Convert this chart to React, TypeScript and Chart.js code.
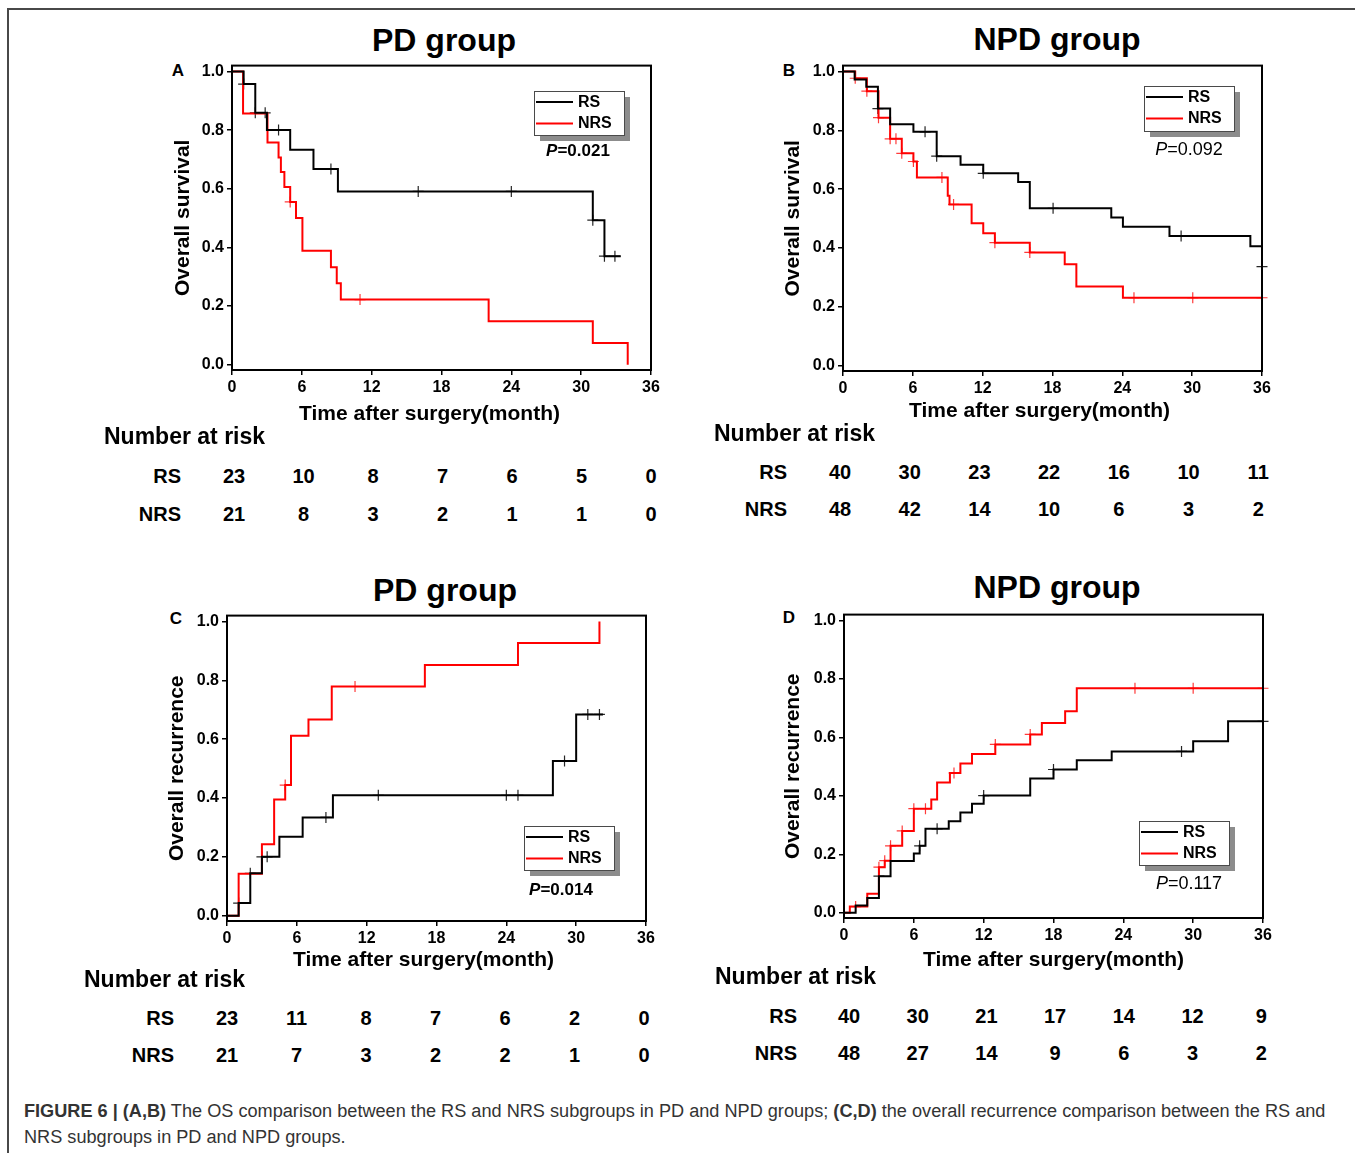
import React, { useEffect, useRef } from "react";
import { Chart, registerables } from "chart.js";

Chart.register(...registerables);

const FONT = '"Liberation Sans", Arial, Helvetica, sans-serif';

// ---------- shared axes / labels ----------
const monthTicks = [0, 6, 12, 18, 24, 30, 36];
const probTicks = [0, 0.2, 0.4, 0.6, 0.8, 1.0];
const seriesNames = ["RS", "NRS"];
const xAxisTitle = "Time after surgery(month)";
const riskHeader = "Number at risk";

// ---------- Panel A : PD group, overall survival ----------
const aRsTime = [0, 1, 2, 3, 5, 7, 9.1, 31, 32, 33.4];
const aRsValue = [1, 0.957, 0.859, 0.8, 0.733, 0.667, 0.591, 0.493, 0.37, 0.37];
const aRsCensor = [1, 2, 2.85, 4, 8.5, 16, 24, 31, 32, 32.9];
const aNrsTime = [0, 0.95, 3.05, 4.0, 4.2, 4.5, 5.0, 5.5, 6.05, 8.5, 9.0, 9.35, 22.05, 31, 34];
const aNrsValue = [1, 0.857, 0.758, 0.707, 0.657, 0.606, 0.555, 0.5, 0.389, 0.332, 0.278, 0.222, 0.148, 0.074, 0];
const aNrsCensor = [5.0, 11];
const aRiskRS = [23, 10, 8, 7, 6, 5, 0];
const aRiskNRS = [21, 8, 3, 2, 1, 1, 0];

// ---------- Panel B : NPD group, overall survival ----------
const bRsTime = [0, 1, 2, 3, 4.05, 6.05, 8.05, 10.1, 12.05, 15.05, 16.05, 23.05, 24.05, 28.05, 35, 36];
const bRsValue = [1, 0.973, 0.948, 0.874, 0.821, 0.795, 0.712, 0.683, 0.654, 0.624, 0.535, 0.504, 0.472, 0.441, 0.406, 0.337];
const bRsCensor = [3, 7.05, 8.05, 12.05, 18.05, 29.05, 36];
const bNrsTime = [0, 1.05, 2.05, 3.05, 4.05, 5.05, 6.05, 6.35, 9.0, 9.15, 11.05, 12.05, 13.05, 16.05, 19.05, 20.05, 24.05, 36];
const bNrsValue = [1, 0.977, 0.933, 0.843, 0.771, 0.722, 0.694, 0.64, 0.578, 0.548, 0.484, 0.45, 0.418, 0.385, 0.345, 0.269, 0.231, 0.231];
const bNrsCensor = [1.05, 2.05, 3.05, 4.05, 4.55, 5.05, 6.05, 8.5, 9.5, 13.05, 16.05, 25, 30.05, 36];
const bRiskRS = [40, 30, 23, 22, 16, 10, 11];
const bRiskNRS = [48, 42, 14, 10, 6, 3, 2];

// ---------- Panel C : PD group, overall recurrence ----------
const cRsTime = [0, 1, 2, 3, 4.5, 6.5, 9.1, 28, 30, 32.3];
const cRsValue = [0, 0.043, 0.144, 0.2, 0.268, 0.334, 0.409, 0.526, 0.684, 0.684];
const cRsCensor = [1, 2, 3, 3.45, 8.5, 13, 24, 25, 29, 31, 32];
const cNrsTime = [0, 1, 3, 4.05, 5, 5.5, 7, 9, 17, 25, 32];
const cNrsValue = [0, 0.143, 0.243, 0.395, 0.444, 0.612, 0.667, 0.779, 0.852, 0.927, 1.0];
const cNrsCensor = [5, 11];
const cRiskRS = [23, 11, 8, 7, 6, 2, 0];
const cRiskNRS = [21, 7, 3, 2, 2, 1, 0];

// ---------- Panel D : NPD group, overall recurrence ----------
const dRsTime = [0, 1, 2, 3, 4, 6, 6.5, 7, 9, 10, 11, 12, 16, 18, 20, 23, 30, 33, 36];
const dRsValue = [0, 0.025, 0.05, 0.125, 0.177, 0.203, 0.229, 0.287, 0.313, 0.343, 0.373, 0.401, 0.459, 0.49, 0.522, 0.552, 0.587, 0.655, 0.655];
const dRsCensor = [3, 6.5, 8, 12, 18, 29, 36];
const dNrsTime = [0, 0.5, 2, 3, 3.5, 4, 5, 6, 7.5, 8, 9.1, 10, 11, 13, 16, 17, 19, 20, 36];
const dNrsValue = [0, 0.021, 0.065, 0.156, 0.178, 0.229, 0.28, 0.356, 0.387, 0.446, 0.478, 0.511, 0.543, 0.576, 0.61, 0.649, 0.689, 0.768, 0.768];
const dNrsCensor = [1, 3, 3.5, 4, 5, 6, 7, 9.45, 13, 16, 25, 30, 36];
const dRiskRS = [40, 30, 21, 17, 14, 12, 9];
const dRiskNRS = [48, 27, 14, 9, 6, 3, 2];

const pValues = ["0.021", "0.092", "0.014", "0.117"];

// ---------- helpers ----------
type Curve = { time: number[]; value: number[]; censor: number[] };

function stepValueAt(time: number[], value: number[], t: number) {
  let v = value[0];
  for (let i = 0; i < time.length; i++) if (time[i] <= t + 1e-9) v = value[i];
  return v;
}

const Y_AXIS_W = 82;
const X_AXIS_H = 65;
const PAD_TOP = 10;
const PAD_RIGHT = 29;

const kmDecor = {
  id: "kmDecor",
  afterDraw(chart: any, _args: any, opts: any) {
    const { ctx, chartArea: ca } = chart;
    ctx.save();
    ctx.strokeStyle = "#000";
    ctx.lineWidth = 2;
    ctx.strokeRect(ca.left, ca.top, ca.right - ca.left, ca.bottom - ca.top);

    // x axis title (slightly off-centre in the original)
    ctx.fillStyle = "#000";
    ctx.font = `bold 21px ${FONT}`;
    ctx.textAlign = "center";
    ctx.textBaseline = "middle";
    ctx.fillText(opts.xTitle, (ca.left + ca.right) / 2 + opts.xTitleDx, opts.xTitleY);

    // boxed legend with shadow
    const bx = Math.round(ca.left + opts.box.x);
    const by = Math.round(ca.top + opts.box.y);
    const bw = opts.box.w;
    const bh = opts.box.h;
    ctx.fillStyle = "#8c8c8c";
    ctx.fillRect(bx + 6, by + 6, bw, bh);
    ctx.fillStyle = "#fff";
    ctx.fillRect(bx, by, bw, bh);
    ctx.strokeStyle = "#4a4a4a";
    ctx.lineWidth = 1;
    ctx.strokeRect(bx + 0.5, by + 0.5, bw, bh);
    const lines = chart.data.datasets.filter((d: any) => !d.kmCensor);
    lines.forEach((d: any, i: number) => {
      const ly = by + 11 + i * 21.5;
      ctx.strokeStyle = d.borderColor;
      ctx.lineWidth = 2;
      ctx.beginPath();
      ctx.moveTo(bx + 2, ly);
      ctx.lineTo(bx + 39, ly);
      ctx.stroke();
      ctx.fillStyle = "#000";
      ctx.font = `bold 16px ${FONT}`;
      ctx.textBaseline = "middle";
      ctx.textAlign = "left";
      ctx.fillText(d.label, bx + 44, ly + 0.5);
    });

    // P value
    const w = opts.pBold ? "bold " : "";
    const fs = opts.pBold ? 17 : 18;
    const pFont = `italic ${w}${fs}px ${FONT}`;
    const rFont = `${w}${fs}px ${FONT}`;
    ctx.font = pFont;
    const w1 = ctx.measureText("P").width;
    ctx.font = rFont;
    const rest = "=" + opts.pValue;
    const w2 = ctx.measureText(rest).width;
    const cx = ca.left + opts.p.x;
    const cy = ca.top + opts.p.y;
    const x0 = cx - (w1 + w2) / 2;
    ctx.fillStyle = "#000";
    ctx.textBaseline = "middle";
    ctx.textAlign = "left";
    ctx.font = pFont;
    ctx.fillText("P", x0, cy);
    ctx.font = rFont;
    ctx.fillText(rest, x0 + w1, cy);
    ctx.restore();
  },
};

type PanelProps = {
  area: [number, number, number, number];
  yTitle: string;
  yTitleX: number;
  xTitleY: number;
  xTitleDx: number;
  rs: Curve;
  nrs: Curve;
  box: { x: number; y: number; w: number; h: number };
  p: { x: number; y: number };
  pValue: string;
  pBold: boolean;
};

function KMPanel(props: PanelProps) {
  const ref = useRef<HTMLCanvasElement | null>(null);
  const [caL, caT, caR, caB] = props.area;
  const left = caL - Y_AXIS_W;
  const top = caT - PAD_TOP;
  const width = caR + PAD_RIGHT - left;
  const height = caB + X_AXIS_H - top;

  useEffect(() => {
    if (!ref.current) return;
    const curves = [
      { name: seriesNames[0], c: props.rs, color: "#000000", mark: "#262626" },
      { name: seriesNames[1], c: props.nrs, color: "#ff0000", mark: "#ff3b3b" },
    ];
    const datasets: any[] = [];
    curves.forEach(({ name, c, color }) =>
      datasets.push({
        label: name,
        data: c.time.map((t, i) => ({ x: t, y: c.value[i] })),
        borderColor: color,
        backgroundColor: color,
        borderWidth: 2,
        stepped: "before",
        pointRadius: 0,
        fill: false,
        tension: 0,
      })
    );
    curves.forEach(({ name, c, mark }) =>
      datasets.push({
        label: name + " censored",
        kmCensor: true,
        data: c.censor.map((t) => ({ x: t, y: stepValueAt(c.time, c.value, t) })),
        showLine: false,
        pointStyle: "cross",
        pointRadius: 5.5,
        pointBorderWidth: 1.2,
        pointBorderColor: mark,
        borderColor: mark,
        clip: false,
      })
    );
    const tickFont = { family: FONT, size: 16, weight: "bold" as const };
    const titleFont = { family: FONT, size: 21, weight: "bold" as const };
    const grid = { drawOnChartArea: false, drawTicks: true, tickLength: 5, color: "#000", lineWidth: 1.5 };
    const border = { display: true, color: "#000", width: 2 };
    const chart = new Chart(ref.current, {
      type: "line",
      data: { datasets },
      plugins: [kmDecor as any],
      options: {
        animation: false,
        responsive: false,
        events: [],
        layout: { padding: { top: PAD_TOP, right: PAD_RIGHT, left: 0, bottom: 0 } },
        plugins: {
          legend: { display: false },
          tooltip: { enabled: false },
          kmDecor: {
            box: props.box,
            p: props.p,
            pValue: props.pValue,
            pBold: props.pBold,
            xTitle: xAxisTitle,
            xTitleDx: props.xTitleDx,
            xTitleY: props.xTitleY - top,
          },
        } as any,
        scales: {
          x: {
            type: "linear",
            min: 0,
            max: 36,
            afterBuildTicks: (s: any) => {
              s.ticks = monthTicks.map((v) => ({ value: v }));
            },
            afterFit: (s: any) => {
              s.height = X_AXIS_H;
            },
            ticks: { font: tickFont, color: "#000", padding: 3, maxRotation: 0, callback: (v: any) => String(v) },
            grid,
            border,
            title: { display: false },
          },
          y: {
            type: "linear",
            min: -0.018,
            max: 1.02,
            afterBuildTicks: (s: any) => {
              s.ticks = probTicks.map((v) => ({ value: v }));
            },
            afterFit: (s: any) => {
              s.width = Y_AXIS_W;
            },
            ticks: { font: tickFont, color: "#000", padding: 3, callback: (v: any) => Number(v).toFixed(1) },
            grid,
            border,
            title: {
              display: true,
              text: props.yTitle,
              color: "#000",
              font: titleFont,
              padding: { top: props.yTitleX - left - 12.6, bottom: 0 },
            },
          },
        },
      } as any,
    });
    return () => chart.destroy();
  }, []);

  return (
    <canvas
      ref={ref}
      width={width}
      height={height}
      style={{ position: "absolute", left, top, width, height }}
    />
  );
}

function Txt(props: {
  x: number;
  y: number;
  size: number;
  align?: "left" | "center" | "right";
  bold?: boolean;
  children: React.ReactNode;
}) {
  const { x, y, size, align = "left", bold = true } = props;
  const w = 400;
  const left = align === "left" ? x : align === "center" ? x - w / 2 : x - w;
  return (
    <div
      style={{
        position: "absolute",
        left,
        top: y - size / 2,
        width: w,
        height: size,
        lineHeight: `${size}px`,
        fontSize: size,
        fontWeight: bold ? 700 : 400,
        fontFamily: FONT,
        textAlign: align,
        color: "#000",
        whiteSpace: "nowrap",
      }}
    >
      {props.children}
    </div>
  );
}

function RiskTable(props: {
  headerX: number;
  headerY: number;
  labelRight: number;
  rowY: [number, number];
  colStart: number;
  colStep: number;
  rs: number[];
  nrs: number[];
}) {
  const rows = [props.rs, props.nrs];
  return (
    <>
      <Txt x={props.headerX} y={props.headerY} size={23}>
        {riskHeader}
      </Txt>
      {rows.map((r, ri) => (
        <React.Fragment key={ri}>
          <Txt x={props.labelRight} y={props.rowY[ri]} size={20} align="right">
            {seriesNames[ri]}
          </Txt>
          {r.map((v, i) => (
            <Txt key={i} x={props.colStart + i * props.colStep} y={props.rowY[ri]} size={20} align="center">
              {v}
            </Txt>
          ))}
        </React.Fragment>
      ))}
    </>
  );
}

export default function App() {
  return (
    <div
      style={{
        position: "absolute",
        left: 0,
        top: 0,
        width: 1355,
        height: 1153,
        background: "#fff",
        overflow: "hidden",
        fontFamily: FONT,
      }}
    >
      <div style={{ position: "absolute", left: 8, top: 8, width: 1347, height: 2, background: "#484848" }} />
      <div style={{ position: "absolute", left: 7, top: 8, width: 2, height: 1145, background: "#484848" }} />

      {/* Titles */}
      <Txt x={444} y={40} size={32} align="center">PD group</Txt>
      <Txt x={1057} y={39} size={32} align="center">NPD group</Txt>
      <Txt x={445} y={590} size={32} align="center">PD group</Txt>
      <Txt x={1057} y={587} size={32} align="center">NPD group</Txt>

      {/* Panel letters */}
      <Txt x={178} y={70} size={17} align="center">A</Txt>
      <Txt x={789} y={70} size={17} align="center">B</Txt>
      <Txt x={176} y={618} size={17} align="center">C</Txt>
      <Txt x={789} y={617} size={17} align="center">D</Txt>

      <KMPanel
        area={[232, 63, 651, 370]}
        yTitle="Overall survival"
        yTitleX={183}
        xTitleY={414}
        xTitleDx={-12}
        rs={{ time: aRsTime, value: aRsValue, censor: aRsCensor }}
        nrs={{ time: aNrsTime, value: aNrsValue, censor: aNrsCensor }}
        box={{ x: 302, y: 25, w: 90, h: 44 }}
        p={{ x: 346, y: 86 }}
        pValue={pValues[0]}
        pBold={true}
      />
      <KMPanel
        area={[843, 63, 1262, 371]}
        yTitle="Overall survival"
        yTitleX={793}
        xTitleY={411}
        xTitleDx={-13}
        rs={{ time: bRsTime, value: bRsValue, censor: bRsCensor }}
        nrs={{ time: bNrsTime, value: bNrsValue, censor: bNrsCensor }}
        box={{ x: 301, y: 20, w: 90, h: 45 }}
        p={{ x: 346, y: 84 }}
        pValue={pValues[1]}
        pBold={false}
      />
      <KMPanel
        area={[227, 613, 646, 921]}
        yTitle="Overall recurrence"
        yTitleX={177}
        xTitleY={960}
        xTitleDx={-13}
        rs={{ time: cRsTime, value: cRsValue, censor: cRsCensor }}
        nrs={{ time: cNrsTime, value: cNrsValue, censor: cNrsCensor }}
        box={{ x: 297, y: 210, w: 90, h: 44 }}
        p={{ x: 334, y: 275 }}
        pValue={pValues[2]}
        pBold={true}
      />
      <KMPanel
        area={[844, 612, 1263, 918]}
        yTitle="Overall recurrence"
        yTitleX={793}
        xTitleY={960}
        xTitleDx={0}
        rs={{ time: dRsTime, value: dRsValue, censor: dRsCensor }}
        nrs={{ time: dNrsTime, value: dNrsValue, censor: dNrsCensor }}
        box={{ x: 295, y: 206, w: 90, h: 44 }}
        p={{ x: 345, y: 269 }}
        pValue={pValues[3]}
        pBold={false}
      />

      <RiskTable headerX={104} headerY={436} labelRight={181} rowY={[476, 514]} colStart={234} colStep={69.5} rs={aRiskRS} nrs={aRiskNRS} />
      <RiskTable headerX={714} headerY={433} labelRight={787} rowY={[472, 509]} colStart={840} colStep={69.7} rs={bRiskRS} nrs={bRiskNRS} />
      <RiskTable headerX={84} headerY={979} labelRight={174} rowY={[1018, 1055]} colStart={227} colStep={69.5} rs={cRiskRS} nrs={cRiskNRS} />
      <RiskTable headerX={715} headerY={976} labelRight={797} rowY={[1016, 1053]} colStart={849} colStep={68.7} rs={dRiskRS} nrs={dRiskNRS} />

      <div
        style={{
          position: "absolute",
          left: 24,
          top: 1098,
          fontSize: 18.15,
          lineHeight: "26px",
          color: "#333",
          whiteSpace: "nowrap",
          fontFamily: FONT,
        }}
      >
        <b>FIGURE 6 | (A,B)</b> The OS comparison between the RS and NRS subgroups in PD and NPD groups; <b>(C,D)</b> the
        overall recurrence comparison between the RS and
        <br />
        NRS subgroups in PD and NPD groups.
      </div>
    </div>
  );
}
